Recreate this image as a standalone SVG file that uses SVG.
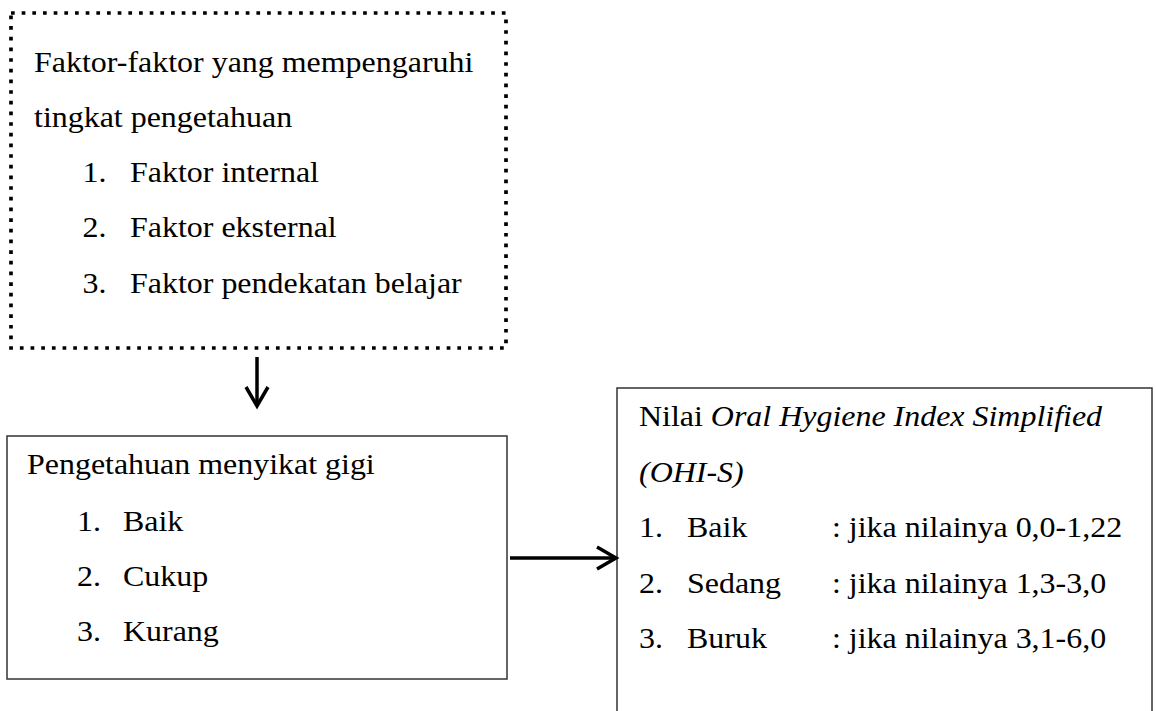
<svg xmlns="http://www.w3.org/2000/svg" width="1156" height="711" viewBox="0 0 1156 711">
<style>
text{font-family:"Liberation Serif","Times New Roman",serif;font-size:30px;fill:#000}
.it{font-style:italic}
.box{fill:#fff;stroke:#333;stroke-width:1.5}
.dot{fill:none;stroke:#000;stroke-width:3.7;stroke-dasharray:3.7 6.97}
.conn{fill:none;stroke:#000;stroke-width:3.5;stroke-linecap:butt;stroke-linejoin:miter}
</style>
<rect width="1156" height="711" fill="#fff"/>
<g id="faktor">
<rect class="dot" x="11" y="13" width="495" height="335"/>
<text transform="translate(34,72) scale(1.065,1)">Faktor-faktor yang mempengaruhi</text>
<text transform="translate(34,127) scale(1.065,1)">tingkat pengetahuan</text>
<text transform="translate(82.5,182) scale(1.065,1)">1.</text>
<text transform="translate(130,182) scale(1.065,1)">Faktor internal</text>
<text transform="translate(82.5,237) scale(1.065,1)">2.</text>
<text transform="translate(130,237) scale(1.065,1)">Faktor eksternal</text>
<text transform="translate(82.5,293) scale(1.065,1)">3.</text>
<text transform="translate(130,293) scale(1.065,1)">Faktor pendekatan belajar</text>
</g>
<g id="pengetahuan">
<rect class="box" x="7" y="436" width="500" height="243"/>
<text transform="translate(27,474) scale(1.065,1)">Pengetahuan menyikat gigi</text>
<text transform="translate(77,531) scale(1.065,1)">1.</text>
<text transform="translate(123,531) scale(1.065,1)">Baik</text>
<text transform="translate(77,586) scale(1.065,1)">2.</text>
<text transform="translate(123,586) scale(1.065,1)">Cukup</text>
<text transform="translate(77,641) scale(1.065,1)">3.</text>
<text transform="translate(123,641) scale(1.065,1)">Kurang</text>
</g>
<g id="ohis">
<rect class="box" x="617" y="388" width="535" height="340"/>
<text transform="translate(639,426) scale(1.065,1)">Nilai <tspan class="it">Oral Hygiene Index Simplified</tspan></text>
<text class="it" transform="translate(639,482) scale(1.065,1)">(OHI-S)</text>
<text transform="translate(639,537) scale(1.065,1)">1.</text>
<text transform="translate(687,537) scale(1.065,1)">Baik</text>
<text transform="translate(832,537) scale(1.065,1)">: jika nilainya 0,0-1,22</text>
<text transform="translate(639,593) scale(1.065,1)">2.</text>
<text transform="translate(687,593) scale(1.065,1)">Sedang</text>
<text transform="translate(832,593) scale(1.065,1)">: jika nilainya 1,3-3,0</text>
<text transform="translate(639,648) scale(1.065,1)">3.</text>
<text transform="translate(687,648) scale(1.065,1)">Buruk</text>
<text transform="translate(832,648) scale(1.065,1)">: jika nilainya 3,1-6,0</text>
</g>
<g id="connectors">
<path class="conn" d="M257,357 V406"/>
<path class="conn" d="M246,387 L257,406 L268,387"/>
<path class="conn" d="M510,558 H615"/>
<path class="conn" d="M597,547 L616,558 L597,569"/>
</g>
</svg>
